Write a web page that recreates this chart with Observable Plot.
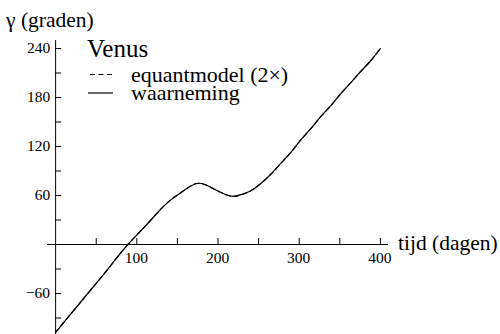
<!DOCTYPE html>
<html>
<head>
<meta charset="utf-8">
<script src="https://cdn.jsdelivr.net/npm/d3@7"></script>
<script src="https://cdn.jsdelivr.net/npm/@observablehq/plot@0.6"></script>
<style>
  html, body { margin: 0; padding: 0; background: white; }
  #wrap { position: relative; width: 500px; height: 334px; overflow: hidden; color: black; }
  #wrap svg.overlay { position: absolute; left: 0; top: 0; pointer-events: none; }
  #chart { position: absolute; left: 0; top: 0; }
  .lbl { position: absolute; height: 0; line-height: 0; white-space: nowrap; }
</style>
</head>
<body>
<div id="wrap">
  <div id="chart"></div>
  <div class="lbl" id="xt0" style="font-family:'Liberation Serif';font-size:15.5px"></div>
  <div class="lbl" id="xt1" style="font-family:'Liberation Serif';font-size:15.5px"></div>
  <div class="lbl" id="xt2" style="font-family:'Liberation Serif';font-size:15.5px"></div>
  <div class="lbl" id="xt3" style="font-family:'Liberation Serif';font-size:15.5px"></div>
  <div class="lbl" id="yt0" style="font-family:'Liberation Serif';font-size:15.5px"></div>
  <div class="lbl" id="yt1" style="font-family:'Liberation Serif';font-size:15.5px"></div>
  <div class="lbl" id="yt2" style="font-family:'Liberation Serif';font-size:15.5px"></div>
  <div class="lbl" id="yt3" style="font-family:'Liberation Serif';font-size:15.5px"></div>
  <div class="lbl" id="yt4" style="font-family:'Liberation Serif';font-size:15.5px"></div>
  <div class="lbl" id="xlab" style="font-family:'Liberation Serif';font-size:21.5px"></div>
  <div class="lbl" id="ylab" style="font-family:'Liberation Serif';font-size:21.5px"></div>
  <div class="lbl" id="ttl" style="font-family:'Liberation Serif';font-size:25px"></div>
  <div class="lbl" id="leg0" style="font-family:'Liberation Serif';font-size:22px"></div>
  <div class="lbl" id="leg1" style="font-family:'Liberation Serif';font-size:22px"></div>
</div>
<script>
// ---- data ----
const days = [0, 20, 40, 53, 70, 89, 109, 125, 141, 158, 176, 195, 210, 220, 230, 240, 252, 265, 277, 290, 301, 314, 326, 339, 351, 363, 375, 388, 400];
const observed = [-107.5, -83.5, -59.5, -44, -23, 0, 21, 38.5, 54, 66, 75, 68, 61, 59, 61.5, 65.5, 74, 86, 99, 113, 127, 141.5, 156, 170, 184.5, 197.5, 211, 225, 240];
const equantModel = [-107.5, -83.5, -59.5, -44, -23, 0, 21, 38.5, 54, 66, 75, 68, 61, 59, 61.5, 65.5, 74, 86, 99, 113, 127, 141.5, 156, 170, 184.5, 197.5, 211, 225, 240];
const xTickLabels = [100, 200, 300, 400];
const xMinorTicks = [50, 150, 250, 350];
const yTickLabels = [-60, 60, 120, 180, 240];
const yMinorTicks = [-90, -30, 30, 90, 150, 210];
const seriesNames = ["equantmodel (2×)", "waarneming"];
const title = "Venus";
const xLabel = "tijd (dagen)";
const yLabel = "γ (graden)";

const obsData = days.map((d, i) => ({day: d, value: observed[i]}));
const modData = days.map((d, i) => ({day: d, value: equantModel[i]}));
const fmt = v => (v < 0 ? "\u2212" + Math.abs(v) : String(v));

const plot = Plot.plot({
  width: 500, height: 334,
  marginTop: 40, marginBottom: 0, marginLeft: 47, marginRight: 112,
  x: {domain: [-10, 410], axis: null},
  y: {domain: [-110.2, 249.8], axis: null},
  style: {background: "white", color: "black", overflow: "visible"},
  marks: [
    Plot.ruleY([0], {stroke: "black", strokeWidth: 1}),
    Plot.ruleX([0], {stroke: "black", strokeWidth: 1}),
    Plot.ruleX([...xTickLabels, ...xMinorTicks], {x: d => d, y1: 0, y2: 0, insetTop: -6, stroke: "black", strokeWidth: 1}),
    Plot.ruleY([...yTickLabels, ...yMinorTicks], {y: d => d, x1: 0, x2: 0, insetRight: -6, stroke: "black", strokeWidth: 1}),
    Plot.line(obsData, {x: "day", y: "value", curve: "natural", stroke: "black", strokeWidth: 1.2}),
    Plot.line(modData, {x: "day", y: "value", curve: "natural", stroke: "black", strokeWidth: 1.2, strokeDasharray: "5,3.5"})
  ]
});
document.getElementById("chart").appendChild(plot);
const sx = plot.scale("x"), sy = plot.scale("y");

// place static label elements (line-height 0: baseline at top + 0.3375em)
function place(id, txt, x, top, anchor) {
  const d = document.getElementById(id);
  d.textContent = txt;
  d.style.top = top + "px";
  if (anchor === "end") { d.style.right = (500 - x) + "px"; }
  else if (anchor === "middle") { d.style.left = (x - 30) + "px"; d.style.width = "60px"; d.style.textAlign = "center"; }
  else { d.style.left = x + "px"; }
}
const baseTop = (baseline, size) => baseline - 0.3375 * size;

xTickLabels.forEach((v, i) => place("xt" + i, fmt(v), sx.apply(v), sy.apply(0) + 14, "middle"));
yTickLabels.forEach((v, i) => place("yt" + i, fmt(v), sx.apply(0) - 5, sy.apply(v), "end"));
place("xlab", xLabel, sx.apply(410) + 10, baseTop(sy.apply(0) + 6, 21.5), "start");
place("ylab", yLabel, 6, baseTop(27, 21.5), "start");
place("ttl", title, 87, baseTop(57, 25), "start");
place("leg0", seriesNames[0], 131, baseTop(82, 22), "start");
place("leg1", seriesNames[1], 131, baseTop(100, 22), "start");

// legend line samples
const ns = "http://www.w3.org/2000/svg";
const lg = document.createElementNS(ns, "svg");
lg.setAttribute("class", "overlay");
lg.setAttribute("width", 500);
lg.setAttribute("height", 334);
function addLine(x1, x2, y, dash) {
  const l = document.createElementNS(ns, "line");
  l.setAttribute("x1", x1); l.setAttribute("x2", x2);
  l.setAttribute("y1", y); l.setAttribute("y2", y);
  l.setAttribute("stroke", "black");
  l.setAttribute("stroke-width", 1.2);
  if (dash) l.setAttribute("stroke-dasharray", dash);
  lg.appendChild(l);
}
addLine(90, 113, 74.5, "5,3.5");
addLine(88, 113, 93, null);
document.getElementById("wrap").appendChild(lg);
</script>
</body>
</html>
